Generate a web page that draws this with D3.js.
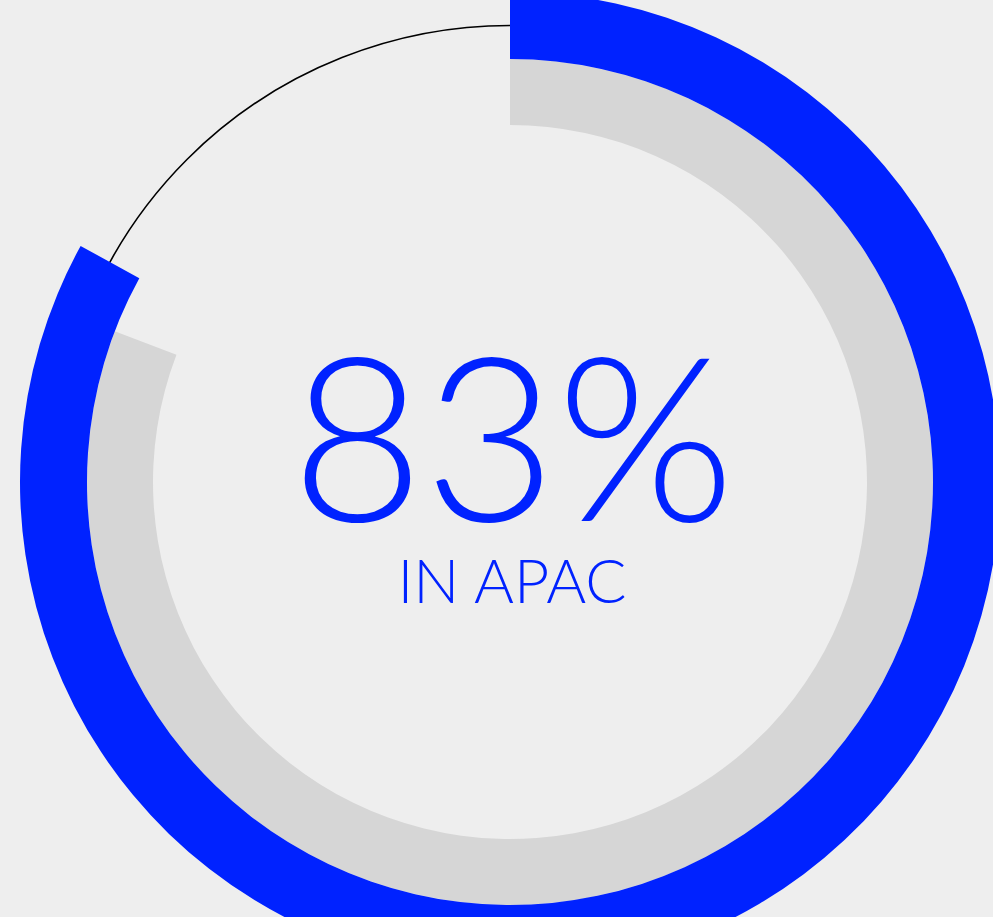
<!DOCTYPE html>
<html>
<head>
<meta charset="utf-8">
<script src="https://cdn.jsdelivr.net/npm/d3@7"></script>
<style>
  html, body { margin: 0; padding: 0; background: #eeeeee; }
  svg { display: block; }
</style>
</head>
<body>
<svg id="chart" width="993" height="917"></svg>
<script>
// Share of respondents in APAC, and the comparison ring beneath it
const regionLabel = "IN APAC";
const shareValue = [83];        // percent, outer blue arc
const comparisonValue = [80.8]; // percent, inner grey arc
const domainMax = 100;

const width = 993, height = 917;
const cx = 510, cy = 482;

const svg = d3.select("#chart");
svg.append("rect").attr("width", width).attr("height", height).attr("fill", "#eeeeee");

const g = svg.append("g").attr("transform", `translate(${cx},${cy})`);

const angle = d3.scaleLinear().domain([0, domainMax]).range([0, 2 * Math.PI]);

// thin track along the middle of the outer ring
g.append("circle")
  .attr("r", 456.5)
  .attr("fill", "none")
  .attr("stroke", "#000")
  .attr("stroke-width", 1.6);

// grey comparison arc, clockwise from twelve o'clock
const innerArc = d3.arc().innerRadius(357).outerRadius(423).startAngle(0);
g.selectAll("path.comp").data(comparisonValue).join("path")
  .attr("class", "comp")
  .attr("fill", "#d6d6d6")
  .attr("d", d => innerArc.endAngle(angle(d))());

// blue value arc, clockwise from twelve o'clock
const outerArc = d3.arc().innerRadius(423).outerRadius(490).startAngle(0);
g.selectAll("path.val").data(shareValue).join("path")
  .attr("class", "val")
  .attr("fill", "#0022ff")
  .attr("d", d => outerArc.endAngle(angle(d))());

// centre labels
g.append("text")
  .attr("x", 3)
  .attr("y", 39)
  .attr("text-anchor", "middle")
  .attr("font-family", "Lato, sans-serif")
  .attr("font-weight", 300)
  .attr("font-size", 229)
  .attr("fill", "#0022ff")
  .text(shareValue[0] + "%");

g.append("text")
  .attr("x", 2)
  .attr("y", 121)
  .attr("text-anchor", "middle")
  .attr("font-family", "Lato, sans-serif")
  .attr("font-weight", 300)
  .attr("font-size", 61)
  .attr("fill", "#0022ff")
  .text(regionLabel);
</script>
</body>
</html>
